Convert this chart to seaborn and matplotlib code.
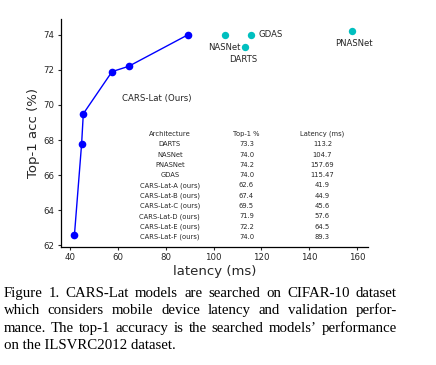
import matplotlib
matplotlib.use("Agg")
import matplotlib.pyplot as plt
import seaborn as sns
import pandas as pd

# ---- data ----
cars_latency = [41.9, 44.9, 45.6, 57.6, 64.5, 89.3]
cars_top1 = [62.6, 67.8, 69.5, 71.9, 72.2, 74.0]

other_names = ["DARTS", "NASNet", "PNASNet", "GDAS"]
other_latency = [113.2, 104.7, 157.69, 115.47]
other_top1 = [73.3, 74.0, 74.2, 74.0]

table_header = ["Architecture", "Top-1 %", "Latency (ms)"]
table_arch = ["DARTS", "NASNet", "PNASNet", "GDAS",
              "CARS-Lat-A (ours)", "CARS-Lat-B (ours)", "CARS-Lat-C (ours)",
              "CARS-Lat-D (ours)", "CARS-Lat-E (ours)", "CARS-Lat-F (ours)"]
table_top1 = ["73.3", "74.0", "74.2", "74.0", "62.6", "67.4", "69.5", "71.9", "72.2", "74.0"]
table_lat = ["113.2", "104.7", "157.69", "115.47", "41.9", "44.9", "45.6", "57.6", "64.5", "89.3"]

x_ticks = [40, 60, 80, 100, 120, 140, 160]
y_ticks = [62, 64, 66, 68, 70, 72, 74]

caption_lines = [
    "Figure 1. CARS-Lat models are searched on CIFAR-10 dataset",
    "which considers mobile device latency and validation perfor-",
    "mance. The top-1 accuracy is the searched models\u2019 performance",
    "on the ILSVRC2012 dataset.",
]

# ---- plot ----
sns.set_style("ticks")
plt.rcParams["font.family"] = ["DejaVu Sans"]

fig = plt.figure(figsize=(4.36, 3.65), dpi=100)
ax = fig.add_axes([0.140, 0.323, 0.703, 0.625])

df_cars = pd.DataFrame({"latency": cars_latency, "top1": cars_top1})
df_other = pd.DataFrame({"latency": other_latency, "top1": other_top1, "name": other_names})

sns.lineplot(data=df_cars, x="latency", y="top1", sort=False, color="blue",
             marker="o", markersize=5.5, markeredgewidth=0, linewidth=1.0, ax=ax)
sns.scatterplot(data=df_other, x="latency", y="top1", color="#00bfbf",
                s=28, linewidth=0, ax=ax)

offsets = {"DARTS": (-1.7, -9.1, "center"), "NASNet": (11.3, -9.1, "right"),
           "PNASNet": (1.7, -9.1, "center"), "GDAS": (5.5, 0, "left")}
for n, xv, yv in zip(other_names, other_latency, other_top1):
    dx, dy, ha = offsets[n]
    ax.annotate(n, (xv, yv), xytext=(dx, dy), textcoords="offset points",
                ha=ha, va="center", fontsize=6.1, color="#262626")

ax.text(0.312, 0.650, "CARS-Lat (Ours)", transform=ax.transAxes, ha="center",
        va="center", fontsize=6.2, color="#262626")

col_x = [0.355, 0.605, 0.853]
rows = [table_header] + [[a, t, l] for a, t, l in zip(table_arch, table_top1, table_lat)]
y0, dy_row = 0.496, 0.0451
for i, row in enumerate(rows):
    for cx, s in zip(col_x, row):
        ax.text(cx, y0 - i * dy_row, s, transform=ax.transAxes, ha="center",
                va="center", fontsize=4.9, color="#262626")

ax.set_xlim(36.3, 164.3)
ax.set_ylim(61.9, 74.9)
ax.set_xticks(x_ticks)
ax.set_yticks(y_ticks)
ax.tick_params(labelsize=6.2, length=2.5, width=0.8, pad=2, colors="#262626")
ax.set_xlabel("latency (ms)", fontsize=9.5, labelpad=2, color="#262626")
ax.set_ylabel("Top-1 acc (%)", fontsize=9.5, labelpad=3, color="#262626")
for sp in ["left", "bottom"]:
    ax.spines[sp].set_linewidth(0.9)
    ax.spines[sp].set_color("black")
sns.despine(ax=ax)

# ---- caption (justified) ----
W, H = 436.0, 365.0
left_px, right_px = 3.5, 396.7
baselines = [296.7, 314.2, 331.7, 349.2]
cap_kw = dict(fontsize=10.7, family=["Liberation Serif"], color="black", va="baseline")
renderer = fig.canvas.get_renderer()
for li, (line, by) in enumerate(zip(caption_lines, baselines)):
    yf = 1 - by / H
    if li == len(caption_lines) - 1:
        fig.text(left_px / W, yf, line, ha="left", **cap_kw)
        continue
    words = line.split(" ")
    txts = [fig.text(0, yf, w, ha="left", **cap_kw) for w in words]
    widths = [t.get_window_extent(renderer).width for t in txts]
    gap = (right_px - left_px - sum(widths)) / (len(words) - 1)
    x = left_px
    for t, w in zip(txts, widths):
        t.set_x(x / W)
        x += w + gap

fig.savefig("out.png", dpi=100)
